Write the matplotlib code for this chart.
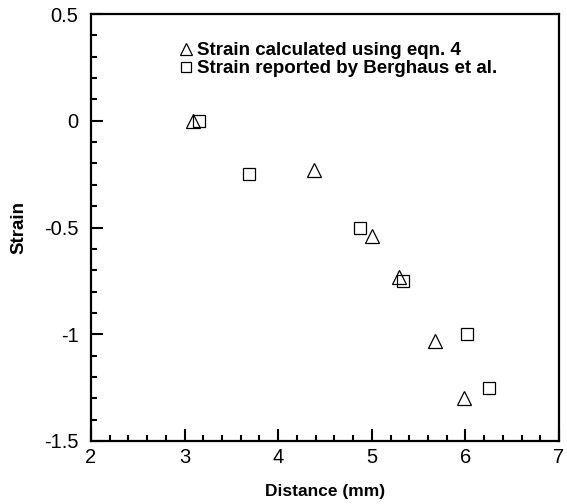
import matplotlib.pyplot as plt
from matplotlib.ticker import MultipleLocator

plt.rcParams['font.family'] = ['Liberation Sans', 'DejaVu Sans']

# strain calculated using eqn. 4
calc_x = [3.09, 4.38, 5.00, 5.29, 5.68, 5.98]
calc_y = [0.0, -0.23, -0.54, -0.73, -1.03, -1.30]
# strain reported by Berghaus et al.
rep_x = [3.15, 3.69, 4.87, 5.33, 6.02, 6.25]
rep_y = [0.0, -0.25, -0.50, -0.75, -1.00, -1.25]

fig = plt.figure(figsize=(5.67, 5.04), dpi=100)
ax = fig.add_axes([91/567, 63/504, 468/567, 427/504])

ax.plot(calc_x, calc_y, ls='none', marker='^', ms=10, mfc='none', mec='black', mew=0.9,
        label='Strain calculated using eqn. 4')
ax.plot(rep_x, rep_y, ls='none', marker='s', ms=8.5, mfc='none', mec='black', mew=0.9,
        label='Strain reported by Berghaus et al.')

ax.set_xlim(2, 7)
ax.set_ylim(-1.5, 0.5)
ax.xaxis.set_major_locator(MultipleLocator(1))
ax.xaxis.set_minor_locator(MultipleLocator(0.2))
ax.yaxis.set_minor_locator(MultipleLocator(0.1))
ax.set_yticks([-1.5, -1, -0.5, 0, 0.5])
ax.set_yticklabels(['-1.5', '-1', '-0.5', '0', '0.5'])

ax.tick_params(which='both', direction='in', top=False, right=False, labelsize=14.5, width=1.5)
ax.tick_params(axis='y', which='major', length=8.5, pad=9)
ax.tick_params(axis='x', which='major', length=8.5, pad=5)
ax.tick_params(which='minor', length=4.5)
for s in ax.spines.values():
    s.set_linewidth(1.6)

ax.set_xlabel('Distance (mm)', fontsize=12.5, fontweight='bold', labelpad=12)
ax.set_ylabel('Strain', fontsize=13.5, fontweight='bold', labelpad=12)

ax.legend(loc='upper left', bbox_to_anchor=(0.15, 0.965), frameon=False,
          prop={'weight': 'bold', 'size': 13.5}, handletextpad=0.0, handlelength=1.2,
          labelspacing=0.05, borderpad=0.2, markerscale=0.9)

plt.savefig('out.png', dpi=100)
